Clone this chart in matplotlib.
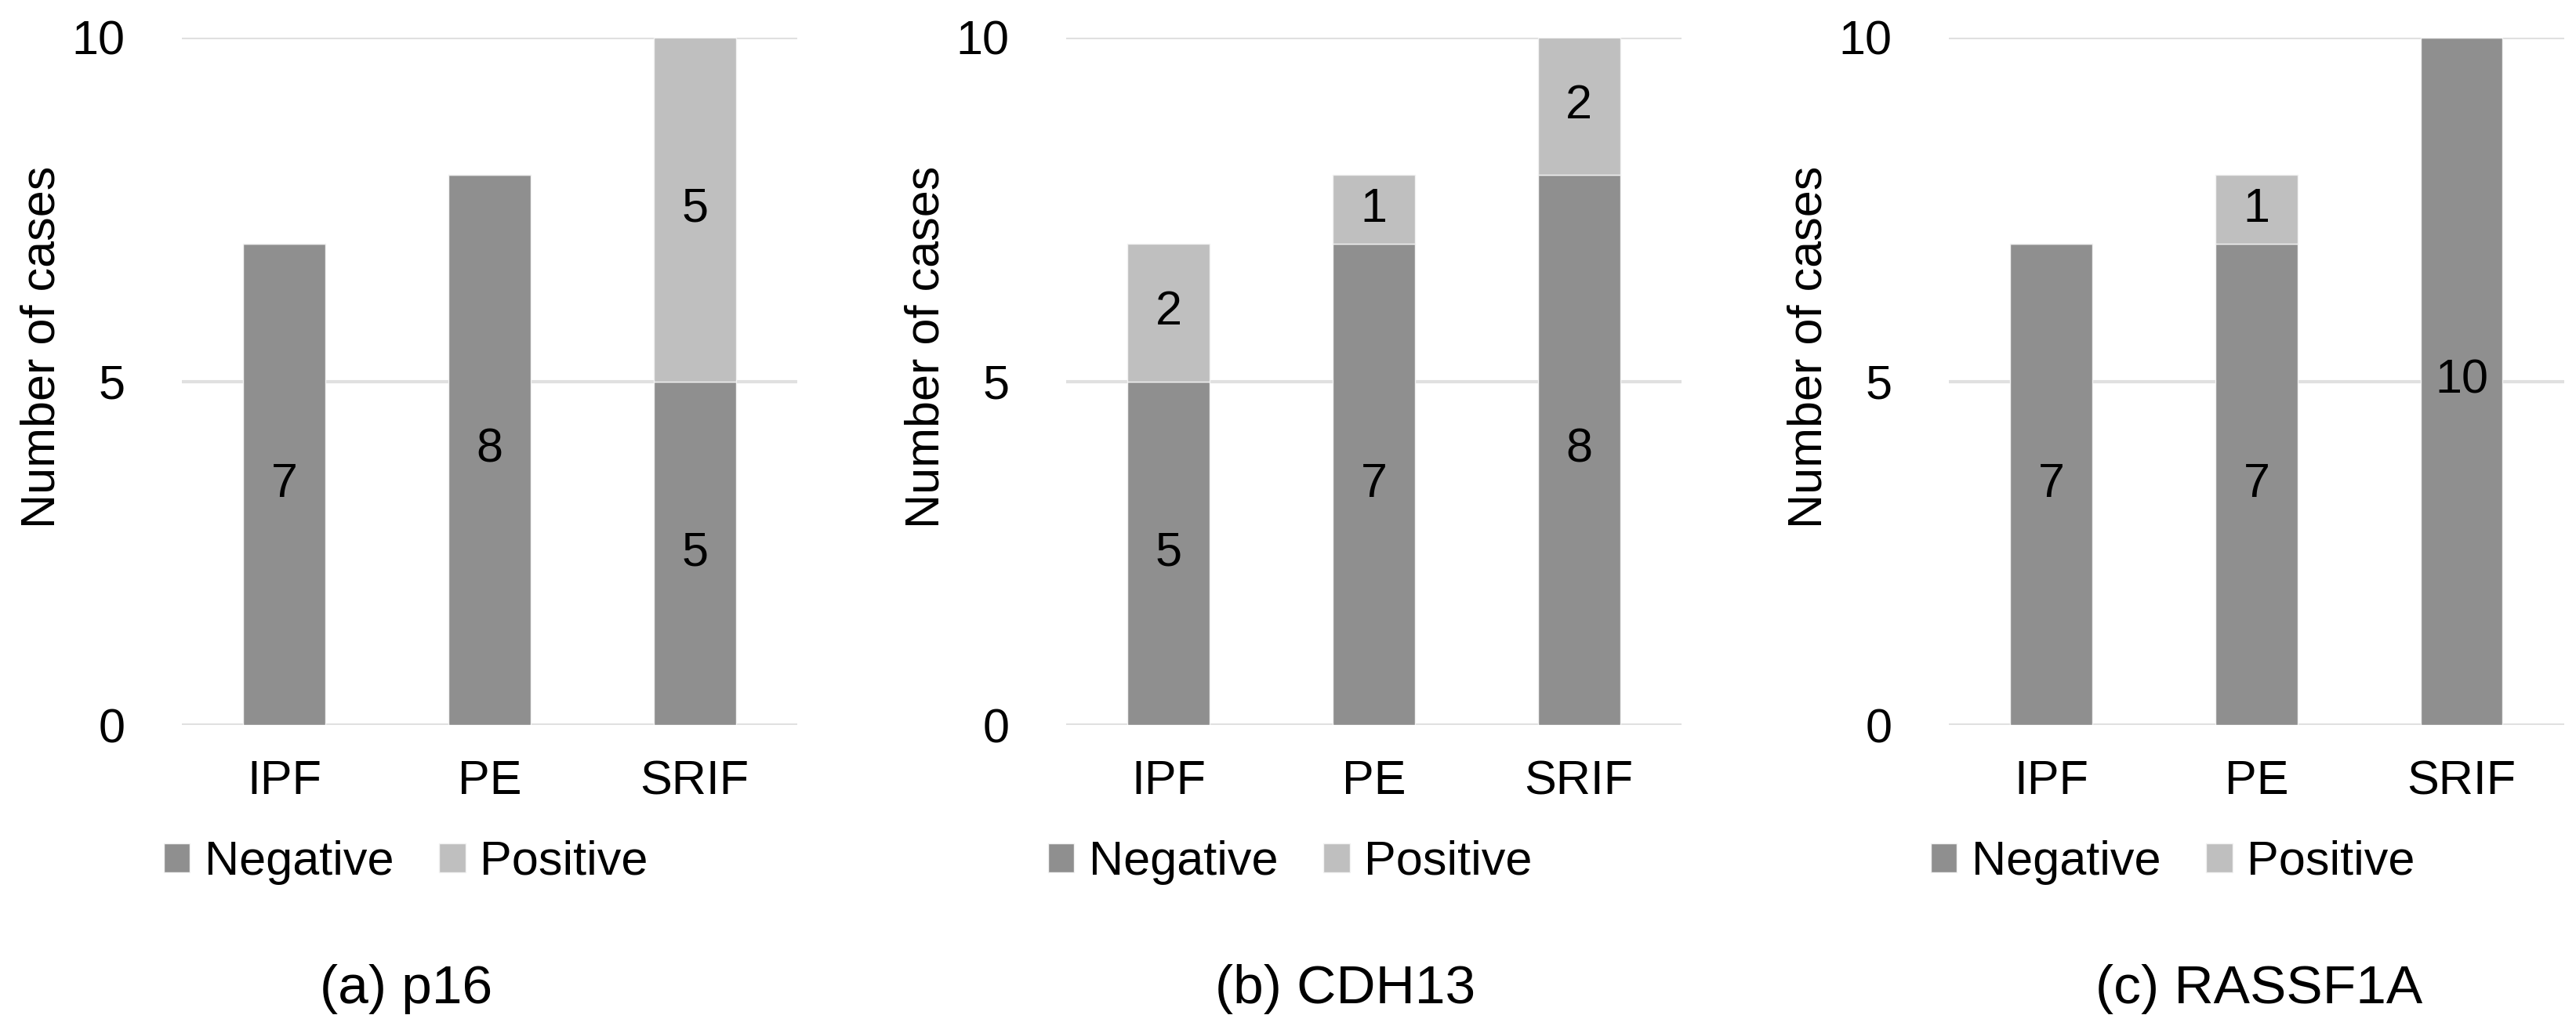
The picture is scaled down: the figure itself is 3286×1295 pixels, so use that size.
import numpy as np
import matplotlib.pyplot as plt

plt.rcParams['font.family'] = ['Liberation Sans', 'DejaVu Sans']

# data
categories = ['IPF', 'PE', 'SRIF']
p16_negative = [7, 8, 5]
p16_positive = [0, 0, 5]
cdh13_negative = [5, 7, 8]
cdh13_positive = [2, 1, 2]
rassf1a_negative = [7, 7, 10]
rassf1a_positive = [0, 1, 0]
captions = ['(a) p16', '(b) CDH13', '(c) RASSF1A']

neg_color = '#8f8f8f'
pos_color = '#bfbfbf'
grid_color = '#e0e0e0'
font_size = 44

fig = plt.figure(figsize=(32.87, 12.95), dpi=100)

panels = [
    (p16_negative, p16_positive),
    (cdh13_negative, cdh13_positive),
    (rassf1a_negative, rassf1a_positive),
]
# left edge of each plot area (figure fraction)
lefts = [232 / 3287, 1360 / 3287, 2486 / 3287]
width = 785 / 3287
bottom = 1 - 925 / 1295
height = 877 / 1295
# caption centre, in axes fraction (the captions are not all centred the same)
caption_x = [0.364, 0.453, 0.504]


def label_segments(ax, x, starts, values):
    for xi, s, v in zip(x, starts, values):
        if v > 0:
            ax.text(xi, s + v / 2, str(v), ha='center', va='center',
                    fontsize=font_size, color='black')


for i, (neg, pos) in enumerate(panels):
    ax = fig.add_axes([lefts[i], bottom, width, height])
    x = np.arange(len(categories))
    ax.bar(x, neg, width=0.4, color=neg_color, edgecolor='#f2f2f2', linewidth=1,
           label='Negative', zorder=3)
    ax.bar(x, pos, width=0.4, bottom=neg, color=pos_color, edgecolor='#f2f2f2',
           linewidth=1, label='Positive', zorder=3)
    label_segments(ax, x, [0] * len(neg), neg)
    label_segments(ax, x, neg, pos)

    ax.set_xlim(-0.5, 2.5)
    ax.set_ylim(0, 10)
    ax.set_yticks([0, 5, 10])
    ax.set_xticks(x)
    ax.set_xticklabels(categories)
    ax.tick_params(axis='both', length=0, labelsize=font_size)
    ax.tick_params(axis='x', pad=32)
    ax.tick_params(axis='y', pad=52)
    ax.yaxis.grid(True, color=grid_color, linewidth=3, zorder=0)
    ax.set_axisbelow(True)
    for sp in ax.spines.values():
        sp.set_visible(False)

    ax.set_ylabel('Number of cases', fontsize=font_size)
    ax.yaxis.set_label_coords(-0.19, 0.55)

    ax.legend(loc='center', bbox_to_anchor=(0.364, -0.2), ncol=2, frameon=False,
              fontsize=font_size, handlelength=0.55, handleheight=0.55,
              handletextpad=0.3, columnspacing=0.95, borderpad=0)

    ax.text(caption_x[i], -0.384, captions[i], transform=ax.transAxes, ha='center',
            va='center', fontsize=50)

fig.savefig('out.png', dpi=100)
